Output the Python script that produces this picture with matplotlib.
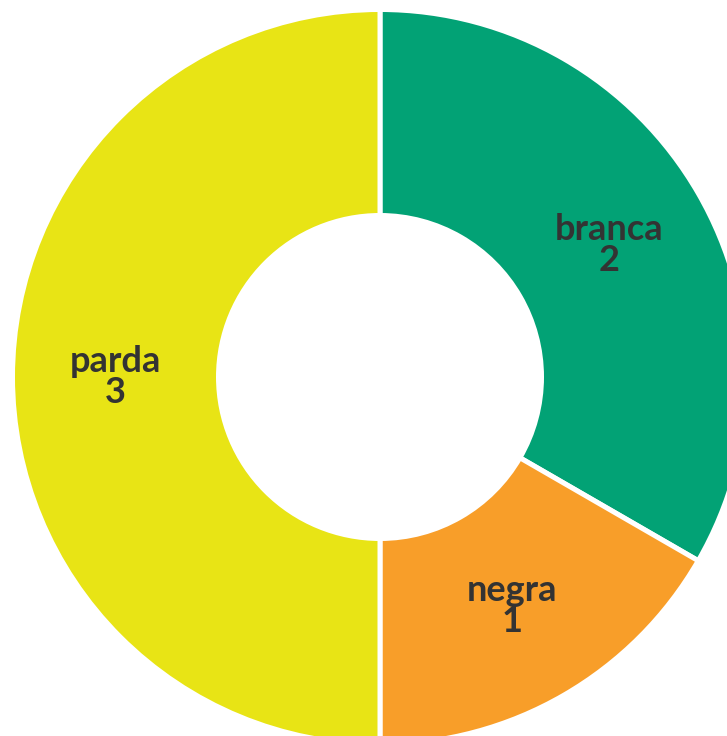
import matplotlib
matplotlib.use("Agg")
import matplotlib.pyplot as plt

labels = ["branca", "negra", "parda"]
values = [2, 1, 3]
colors = ["#02A275", "#F89E29", "#E8E415"]

fig = plt.figure(figsize=(7.27, 7.36), dpi=100)
ax = fig.add_axes([0, 0, 1, 1])

# ring measured in pixels: centre (380, 377 from top), outer 365, inner 164
cx, cy = 380, 736 - 377
gap = 5  # px
R = 365 + gap / 2
W = R + gap / 2 - 164

wedges, texts = ax.pie(
    values,
    labels=[f"{l}\n{v}" for l, v in zip(labels, values)],
    colors=colors,
    startangle=90,
    counterclock=False,
    radius=R,
    center=(cx, cy),
    labeldistance=264.5 / R,
    wedgeprops=dict(width=W, edgecolor="white", linewidth=gap * 0.72),
    textprops=dict(fontsize=26, fontweight="bold", family="Lato",
                   color="#333333"),
)
for t in texts:
    t.set_ha("center")
    t.set_va("center")
    t.set_multialignment("center")
    t.set_linespacing(0.92)

ax.set_xlim(0, 727)
ax.set_ylim(0, 736)
ax.set_aspect("equal")
ax.axis("off")

fig.savefig("out.png", dpi=100)
